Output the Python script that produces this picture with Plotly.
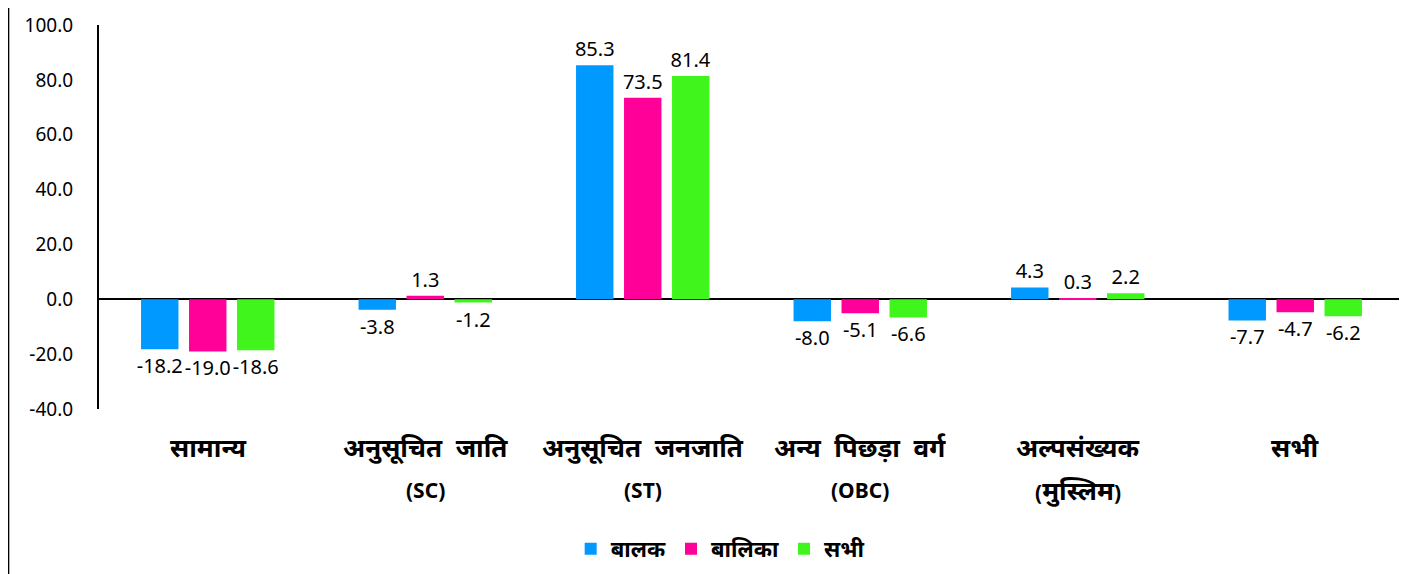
import plotly.graph_objects as go

categories = ["सामान्य", "अनुसूचित जाति", "अनुसूचित जनजाति",
              "अन्य पिछड़ा वर्ग", "अल्पसंख्यक", "सभी"]
category_sub = ["", "(SC)", "(ST)", "(OBC)", "(<span style='font-size:26px'>मुस्लिम</span>)", ""]
series_names = ["बालक", "बालिका", "सभी"]
boys = [-18.2, -3.8, 85.3, -8.0, 4.3, -7.7]
girls = [-19.0, 1.3, 73.5, -5.1, 0.3, -4.7]
total = [-18.6, -1.2, 81.4, -6.6, 2.2, -6.2]
colors = ["#0099FF", "#FF0099", "#40F51C"]
y_ticks = [-40, -20, 0, 20, 40, 60, 80, 100]
y_tick_text = [f"{v:.1f}" for v in y_ticks]

FONT = "Noto Sans, Open Sans, sans-serif"

fig = go.Figure()
for name, vals, col in zip(series_names, [boys, girls, total], colors):
    fig.add_trace(go.Bar(
        x=categories, y=vals, name=name,
        marker=dict(color=col, line=dict(width=0)),
        text=[f"{v:.1f}" for v in vals], textposition="outside",
        constraintext="none",
        textfont=dict(size=20, color="#000000", family=FONT),
        cliponaxis=False,
    ))

for cat, sub in zip(categories, category_sub):
    fig.add_annotation(x=cat, xref="x", y=-0.099, yref="paper",
                       text="<b>" + cat.replace(" ", "\u00a0 ") + "</b>",
                       showarrow=False, yanchor="middle",
                       font=dict(size=26, family=FONT, color="#000000"))
    if sub:
        fig.add_annotation(x=cat, xref="x", y=-0.211, yref="paper", text=f"<b>{sub}</b>",
                           showarrow=False, yanchor="middle",
                           font=dict(size=21, family=FONT, color="#000000"))

fig.update_layout(
    width=1399, height=566,
    margin=dict(l=91, r=3, t=17, b=165, autoexpand=False),
    paper_bgcolor="white", plot_bgcolor="white",
    barmode="group", bargap=0.338, bargroupgap=0.22,
    font=dict(family=FONT, color="#000000"),
    showlegend=True,
    legend=dict(orientation="h", x=0.476, xanchor="center", y=-0.31, yanchor="top",
                font=dict(size=22, family=FONT, weight="bold"),
                itemwidth=30, traceorder="normal", tracegroupgap=0),
)
fig.update_xaxes(showline=False, ticks="", showgrid=False, showticklabels=False,
                 automargin=False)
fig.update_yaxes(range=[-40, 100], tickvals=y_ticks, ticktext=y_tick_text,
                 showgrid=False, showline=True, linecolor="#000000", linewidth=2,
                 zeroline=True, zerolinecolor="#000000", zerolinewidth=1.5,
                 ticks="", ticklabelstandoff=20, automargin=False,
                 tickfont=dict(size=19, family=FONT, color="#000000"))
fig.add_shape(type="line", xref="paper", yref="paper",
              x0=-0.0693, x1=-0.0693, y0=-0.44, y1=1.07,
              line=dict(color="#000000", width=1.5))

fig.write_html("out.html")
